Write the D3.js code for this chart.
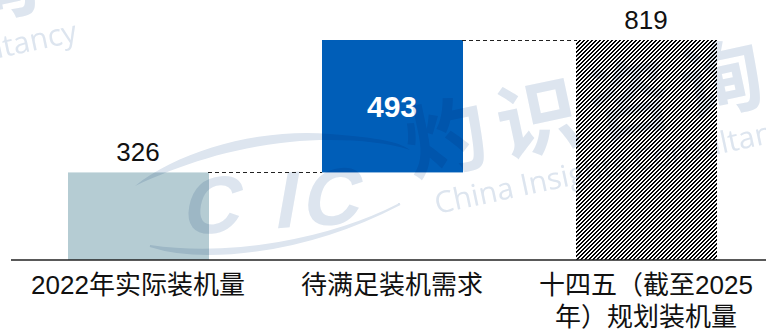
<!DOCTYPE html>
<html>
<head>
<meta charset="utf-8">
<script src="https://cdn.jsdelivr.net/npm/d3@7"></script>
<style>
  html, body { margin: 0; padding: 0; background: #fff; }
  svg { display: block; }
</style>
</head>
<body>
<svg id="chart" width="766" height="331"></svg>
<script>
// Installed capacity waterfall: actual 2022, remaining demand, 14th Five-Year plan target
const categories = ["2022年实际装机量", "待满足装机需求", "十四五（截至2025年）规划装机量"];
const categoryLines = [["2022年实际装机量"], ["待满足装机需求"], ["十四五（截至2025", "年）规划装机量"]];
const barStart = [0, 326, 0];
const barEnd = [326, 819, 819];
const valueLabels = ["326", "493", "819"];

const W = 766, H = 331;
const svg = d3.select("#chart");
const labelFont = "'Liberation Sans', Arial, 'Noto Sans CJK SC', sans-serif";

const x = d3.scaleBand()
  .domain(categories)
  .range([11, 773])
  .paddingInner(0.445)
  .paddingOuter(0.2225);

const y = d3.scaleLinear()
  .domain([0, 819])
  .range([260, 40]);

// Diagonal hatch fill for the plan bar: a 2px-wide "/" band in a 4px tile
const defs = svg.append("defs");
const pat = defs.append("pattern")
  .attr("id", "hatch")
  .attr("patternUnits", "userSpaceOnUse")
  .attr("width", 4).attr("height", 4);
pat.append("rect").attr("width", 4).attr("height", 4).attr("fill", "#fff");
d3.range(4).forEach(r => {
  [3 - r, (4 - r) % 4].forEach(c => {
    pat.append("rect")
      .attr("x", c).attr("y", r)
      .attr("width", 1).attr("height", 1)
      .attr("fill", "#000")
      .attr("shape-rendering", "crispEdges");
  });
});

const fills = ["#b5ccd3", "#005eb8", "url(#hatch)"];

// Bars
svg.append("g").selectAll("rect")
  .data(categories)
  .join("rect")
  .attr("x", d => Math.round(x(d)))
  .attr("width", Math.round(x.bandwidth()))
  .attr("y", (d, i) => y(barEnd[i]))
  .attr("height", (d, i) => y(barStart[i]) - y(barEnd[i]))
  .attr("fill", (d, i) => fills[i]);

// Dashed connectors between consecutive bars
const connectors = [
  { from: 0, to: 1, v: barEnd[0] },
  { from: 1, to: 2, v: barEnd[1] }
];
svg.append("g").selectAll("line")
  .data(connectors)
  .join("line")
  .attr("x1", d => Math.round(x(categories[d.from]) + x.bandwidth()))
  .attr("x2", d => Math.round(x(categories[d.to])))
  .attr("y1", d => Math.round(y(d.v)) + 0.5)
  .attr("y2", d => Math.round(y(d.v)) + 0.5)
  .attr("stroke", "#222")
  .attr("stroke-width", 1)
  .attr("stroke-dasharray", "4,3");

// Baseline axis
const axis = svg.append("g")
  .attr("transform", `translate(0,${y(0)})`)
  .call(d3.axisBottom(x).tickSize(0).tickFormat(""));
axis.select(".domain")
  .attr("d", `M11,0H${W}`)
  .attr("stroke", "#222")
  .attr("stroke-width", 1.6);

// Category labels
const catG = svg.append("g");
categories.forEach((c, i) => {
  const cx = x(c) + x.bandwidth() / 2;
  const t = catG.append("text")
    .attr("x", cx)
    .attr("y", 294)
    .attr("text-anchor", "middle")
    .attr("font-family", labelFont)
    .attr("font-size", 26)
    .attr("fill", "#111");
  categoryLines[i].forEach((ln, j) => {
    t.append("tspan")
      .attr("x", cx)
      .attr("dy", j === 0 ? 0 : 32)
      .text(ln);
  });
});

// Value labels
svg.append("g").selectAll("text")
  .data(categories)
  .join("text")
  .attr("x", d => x(d) + x.bandwidth() / 2)
  .attr("y", (d, i) => i === 1 ? (y(barStart[i]) + y(barEnd[i])) / 2 + 11 : y(barEnd[i]) - 11)
  .attr("text-anchor", "middle")
  .attr("font-family", "'Liberation Sans', Arial, sans-serif")
  .attr("font-size", (d, i) => i === 1 ? 30 : 26)
  .attr("font-weight", (d, i) => i === 1 ? "bold" : "normal")
  .attr("fill", (d, i) => i === 1 ? "#fff" : "#111")
  .text((d, i) => valueLabels[i]);

// Faint company watermark laid over the plot
const wmCol = "#dde5ef";
const wm = svg.append("g")
  .style("mix-blend-mode", "multiply")
  .attr("pointer-events", "none");

function stamp(g, dx, dy) {
  const s = g.append("g").attr("transform", `translate(${dx},${dy})`);
  // crescent swooshes around the logo letters
  s.append("path")
    .attr("d", "M135,186 C180,150 260,128 330,134 C380,138 400,142 410,150 C380,140 330,138 290,142 C230,148 180,165 135,186 Z")
    .attr("fill", wmCol);
  s.append("path")
    .attr("d", "M150,246 C200,262 300,256 400,204 C330,240 230,258 150,246 Z")
    .attr("fill", wmCol).attr("stroke", wmCol).attr("stroke-width", 2);
  // slanted CIC letters
  const cic = s.append("g").attr("transform", "translate(181,235) rotate(-4) skewX(-14)");
  [["C", 0], ["I", 92], ["C", 120]].forEach(([ch, px]) => {
    cic.append("text")
      .attr("x", px).attr("y", 0)
      .attr("font-family", "'Liberation Sans', Arial, sans-serif")
      .attr("font-size", 80)
      .attr("font-weight", "bold")
      .attr("fill", wmCol)
      .text(ch);
  });
  // Chinese brand name
  s.append("text")
    .attr("transform", "translate(412,176) rotate(-12)")
    .attr("font-family", "'Noto Sans CJK SC', sans-serif")
    .attr("font-weight", "bold")
    .attr("font-size", 82)
    .attr("letter-spacing", 12)
    .attr("fill", wmCol)
    .text("灼识咨询");
  // English brand name
  s.append("text")
    .attr("transform", "translate(437,214) rotate(-12)")
    .attr("font-family", "'Open Sans', 'DejaVu Sans', sans-serif")
    .attr("font-size", 30)
    .attr("fill", wmCol)
    .text("China Insights Consultancy");
}
stamp(wm, 0, 0);
stamp(wm, -725, -95);
</script>
</body>
</html>
